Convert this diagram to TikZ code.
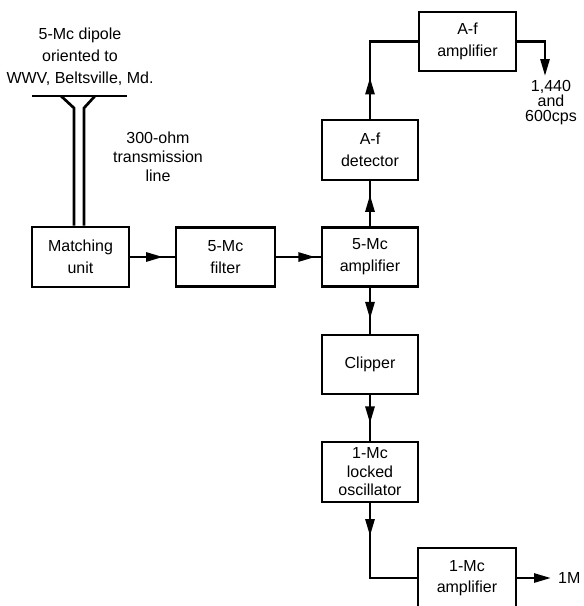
\documentclass[tikz,border=0pt]{standalone}
\usepackage{fontspec}
\setmainfont{Liberation Sans}
\usetikzlibrary{arrows.meta,decorations.markings}
\begin{document}
\begin{tikzpicture}[x=1pt,y=-1pt,
  every node/.style={font=\fontsize{16}{22}\selectfont, inner sep=0pt},
  blk/.style={draw, line width=2.7pt, minimum width=96pt, minimum height=59pt, align=center},
  wire/.style={line width=2.7pt},
  tip/.style={-{Triangle[length=17pt,width=9pt]}},
  midarr/.style={postaction={decorate},decoration={markings,mark=at position #1 with {\arrow{Triangle[length=17pt,width=9pt]}}}},
]
\useasboundingbox (0,0) rectangle (584,606);

% blocks
\node[blk, minimum width=97pt, minimum height=60pt] (match) at (80.5,257) {Matching\\unit};
\node[blk, minimum width=99pt] (filt) at (225.5,257) {5-Mc\\filter};
\node[blk] (amp5) at (370,257) {5-Mc\\amplifier};
\node[blk, minimum height=60pt] (det) at (370,150) {A-f\\detector};
\node[blk, minimum width=97pt] (afamp) at (467.5,41.5) {A-f\\amplifier};
\node[blk] (clip) at (370,364.5) {Clipper};
\node[blk, minimum height=60pt, font=\fontsize{16}{18.5}\selectfont] (osc) at (370,472) {1-Mc\\locked\\oscillator};
\node[blk, minimum width=98pt, minimum height=60pt] (amp1) at (467,578) {1-Mc\\[-1pt]amplifier};

% labels
\node[align=center] (dip) at (80,57) {5-Mc dipole\\oriented to\\WWV, Beltsville, Md.};
\node[align=center, font=\fontsize{16}{19}\selectfont] (tl) at (158,157) {300-ohm\\transmission\\line};
\node[align=center, font=\fontsize{16}{15}\selectfont] (cps) at (551,103) {1,440\\and\\600cps};
\node[anchor=west] (out1) at (558,578) {1M};

% antenna and feed line
\draw[wire] (32,96) -- (127,96);
\draw[wire] (61,96) -- (74,108) -- (74,108 |- match.north);
\draw[wire] (95,96) -- (84,108) -- (84,108 |- match.north);

% connectors
\coordinate (afout) at (545,76);
\coordinate (o1) at (551,578);
\draw[wire, midarr=0.74] (match) -- (filt);
\draw[wire, midarr=0.88] (filt) -- (amp5);
\draw[wire, midarr=0.70] (amp5) -- (det);
\draw[wire, midarr=0.33] (det.north) |- (afamp.west);
\draw[wire, tip] (afamp.east) -| (afout);
\draw[wire, midarr=0.68] (amp5) -- (clip);
\draw[wire, midarr=0.62] (clip) -- (osc);
\draw[wire, midarr=0.27] (osc.south) |- (amp1.west);
\draw[wire, tip] (amp1.east) -- (o1);
\end{tikzpicture}
\end{document}
